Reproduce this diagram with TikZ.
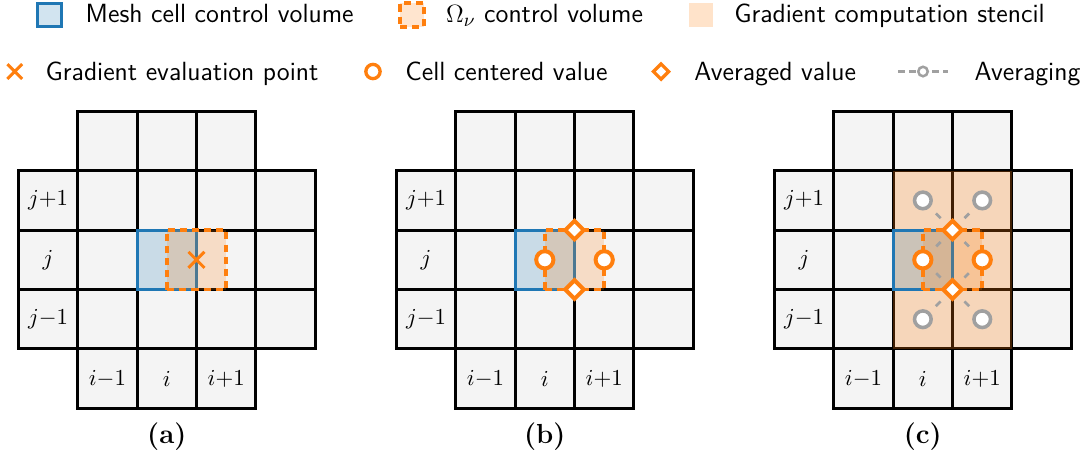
\documentclass[tikz,border=0pt]{standalone}
\usepackage{amsmath}
\usepackage{amssymb}
\usepackage{tikz}
\usetikzlibrary{shapes.geometric,shapes.misc}
\definecolor{tabblue}{RGB}{31,119,180}
\definecolor{taborange}{RGB}{255,127,14}
\definecolor{cellgray}{RGB}{244,244,244}
\definecolor{avggray}{RGB}{160,160,160}

\begin{document}
\begin{tikzpicture}[
  meshline/.style={black,line width=1.4pt,line cap=rect},
  meshcell/.style={draw=tabblue,fill=tabblue,fill opacity=0.2,line width=1.5pt},
  omegabox/.style={draw=taborange,fill=taborange,fill opacity=0.2,line width=1.7pt,dash pattern=on 3.4pt off 2.4pt},
  stencil/.style={fill=taborange,fill opacity=0.25},
  cellval/.style={circle,draw=taborange,fill=white,line width=1.9pt,minimum size=0.29cm,inner sep=0pt},
  avgval/.style={diamond,draw=taborange,fill=white,line width=1.9pt,minimum size=0.34cm,inner sep=0pt},
  nbrval/.style={circle,draw=avggray,fill=white,line width=1.7pt,minimum size=0.28cm,inner sep=0pt},
  evalpt/.style={cross out,draw=taborange,line width=1.4pt,minimum size=0.22cm,inner sep=0pt},
  avgline/.style={avggray,line width=1.3pt,shorten <=4pt,shorten >=4pt},
  idx/.style={font=\fontsize{11}{13}\selectfont},
  legtext/.style={anchor=base west,inner sep=0pt,font=\fontsize{12.6}{15}\selectfont\sffamily},
  legbox/.style={minimum size=0.40cm,inner sep=0pt},
  sublabel/.style={font=\fontsize{13.2}{16}\selectfont\bfseries}
]
\useasboundingbox (0,0) rectangle (18.384,7.845);

% legend
\node[legbox,draw=tabblue,fill=tabblue!20,line width=1.5pt] (lg-mesh) at (0.835,7.593) {};
\node[legtext] (lg-meshtxt) at (1.436,7.465) {Mesh cell control volume};
\node[legbox,draw=taborange,fill=taborange!20,line width=1.7pt,dash pattern=on 3.4pt off 2.4pt] (lg-omega) at (6.936,7.593) {};
\node[legtext] (lg-omegatxt) at (7.503,7.465) {$\Omega_\nu$ control volume};
\node[legbox,fill=taborange!22] (lg-sten) at (11.801,7.593) {};
\node[legtext] (lg-stentxt) at (12.357,7.465) {Gradient computation stencil};
\node[evalpt,minimum size=0.2cm] (lg-eval) at (0.249,6.641) {};
\node[legtext] (lg-evaltxt) at (0.763,6.497) {Gradient evaluation point};
\node[cellval,minimum size=0.24cm,line width=1.6pt] (lg-cell) at (6.279,6.641) {};
\node[legtext] (lg-celltxt) at (6.818,6.497) {Cell centered value};
\node[avgval,minimum size=0.28cm,line width=1.6pt] (lg-avg) at (11.128,6.641) {};
\node[legtext] (lg-avgtxt) at (11.684,6.497) {Averaged value};
\coordinate (lg-lineL) at (15.118,6.641);
\coordinate (lg-lineR) at (15.960,6.641);
\draw[avggray,line width=1.2pt,dash pattern=on 3.4pt off 2pt] (lg-lineL) -- (lg-lineR);
\node[nbrval,minimum size=0.16cm,line width=1.2pt] (lg-nbr) at (15.539,6.641) {};
\node[legtext] (lg-nbrtxt) at (16.402,6.497) {Averaging};

% (a)
\begin{scope}[shift={(0.308,0.971)}]
\fill[cellgray] (1,0) rectangle (4,5);
\fill[cellgray] (0,1) rectangle (5,4);
\draw[meshline] (1,0) grid (4,5);
\draw[meshline] (0,1) grid (5,4);
\draw[meshcell] (2,2) rectangle (3,3);
\draw[omegabox] (2.5,2) rectangle (3.5,3);
\node[evalpt] (a-x) at (3,2.5) {};
\node[idx] (a-jp) at (0.5,3.5) {$j{+}1$};
\node[idx] (a-j) at (0.5,2.5) {$j$};
\node[idx] (a-jm) at (0.5,1.5) {$j{-}1$};
\node[idx] (a-im) at (1.5,0.5) {$i{-}1$};
\node[idx] (a-i) at (2.5,0.5) {$i$};
\node[idx] (a-ip) at (3.5,0.5) {$i{+}1$};
\node[sublabel] (a-cap) at (2.5,-0.483) {(a)};
\end{scope}

% (b)
\begin{scope}[shift={(6.672,0.971)}]
\fill[cellgray] (1,0) rectangle (4,5);
\fill[cellgray] (0,1) rectangle (5,4);
\draw[meshline] (1,0) grid (4,5);
\draw[meshline] (0,1) grid (5,4);
\draw[meshcell] (2,2) rectangle (3,3);
\draw[omegabox] (2.5,2) rectangle (3.5,3);
\node[cellval] (b-cW) at (2.5,2.5) {};
\node[cellval] (b-cE) at (3.5,2.5) {};
\node[avgval] (b-avN) at (3,3) {};
\node[avgval] (b-avS) at (3,2) {};
\node[idx] (b-jp) at (0.5,3.5) {$j{+}1$};
\node[idx] (b-j) at (0.5,2.5) {$j$};
\node[idx] (b-jm) at (0.5,1.5) {$j{-}1$};
\node[idx] (b-im) at (1.5,0.5) {$i{-}1$};
\node[idx] (b-i) at (2.5,0.5) {$i$};
\node[idx] (b-ip) at (3.5,0.5) {$i{+}1$};
\node[sublabel] (b-cap) at (2.5,-0.483) {(b)};
\end{scope}

% (c)
\begin{scope}[shift={(13.036,0.971)}]
\fill[cellgray] (1,0) rectangle (4,5);
\fill[cellgray] (0,1) rectangle (5,4);
\draw[meshline] (1,0) grid (4,5);
\draw[meshline] (0,1) grid (5,4);
\fill[stencil] (2,1) rectangle (4,4);
\draw[meshcell] (2,2) rectangle (3,3);
\draw[omegabox] (2.5,2) rectangle (3.5,3);
\node[nbrval] (c-nNW) at (2.5,3.5) {};
\node[nbrval] (c-nNE) at (3.5,3.5) {};
\node[nbrval] (c-nSW) at (2.5,1.5) {};
\node[nbrval] (c-nSE) at (3.5,1.5) {};
\node[cellval] (c-cW) at (2.5,2.5) {};
\node[cellval] (c-cE) at (3.5,2.5) {};
\node[avgval] (c-avN) at (3,3) {};
\node[avgval] (c-avS) at (3,2) {};
\draw[avgline] (c-avN) -- (c-nNW);
\draw[avgline] (c-avN) -- (c-nNE);
\draw[avgline] (c-avN) -- (c-cW);
\draw[avgline] (c-avN) -- (c-cE);
\draw[avgline] (c-avS) -- (c-cW);
\draw[avgline] (c-avS) -- (c-cE);
\draw[avgline] (c-avS) -- (c-nSW);
\draw[avgline] (c-avS) -- (c-nSE);
\node[idx] (c-jp) at (0.5,3.5) {$j{+}1$};
\node[idx] (c-j) at (0.5,2.5) {$j$};
\node[idx] (c-jm) at (0.5,1.5) {$j{-}1$};
\node[idx] (c-im) at (1.5,0.5) {$i{-}1$};
\node[idx] (c-i) at (2.5,0.5) {$i$};
\node[idx] (c-ip) at (3.5,0.5) {$i{+}1$};
\node[sublabel] (c-cap) at (2.5,-0.483) {(c)};
\end{scope}
\end{tikzpicture}
\end{document}
